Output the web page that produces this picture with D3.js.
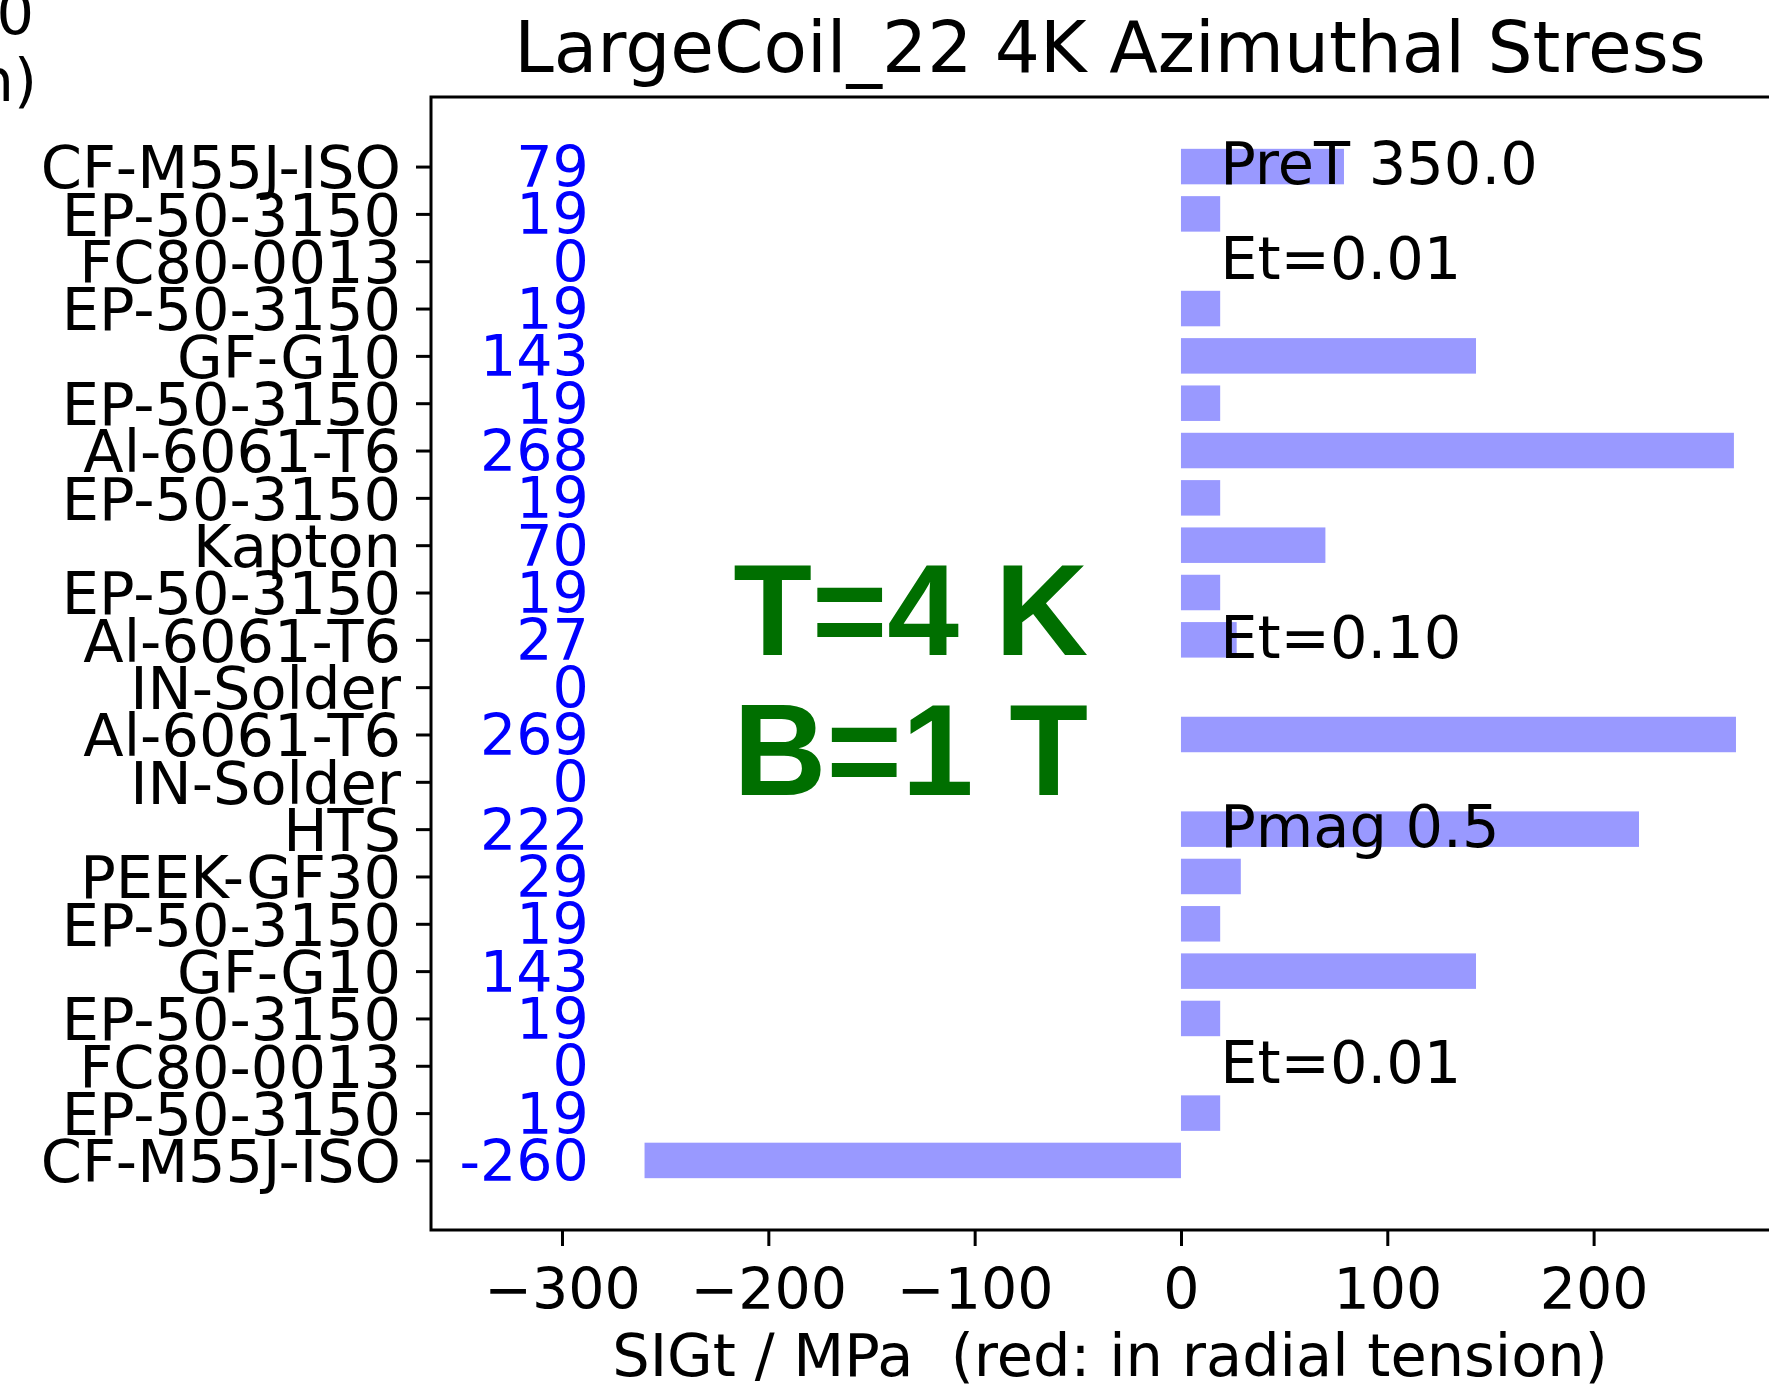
<!DOCTYPE html>
<html>
<head>
<meta charset="utf-8">
<script src="https://cdn.jsdelivr.net/npm/d3@7"></script>
<style>
  body { margin: 0; background: #fff; }
  svg text { font-family: "DejaVu Sans", sans-serif; }
</style>
</head>
<body>
<svg id="chart" width="1769" height="1392"></svg>
<script>
// layers, listed top to bottom
var materials = ["CF-M55J-ISO","EP-50-3150","FC80-0013","EP-50-3150","GF-G10","EP-50-3150",
    "Al-6061-T6","EP-50-3150","Kapton","EP-50-3150","Al-6061-T6","IN-Solder","Al-6061-T6",
    "IN-Solder","HTS","PEEK-GF30","EP-50-3150","GF-G10","EP-50-3150","FC80-0013","EP-50-3150","CF-M55J-ISO"];
var sigt = [79,19,0,19,143,19,268,19,70,19,27,0,269,0,222,29,19,143,19,0,19,-260];
var xTicks = [-300,-200,-100,0,100,200];
var noteRows = [0,2,10,14,19];
var noteTexts = ["PreT 350.0","Et=0.01","Et=0.10","Pmag 0.5","Et=0.01"];
var condLines = ["T=4 K","B=1 T"];

function draw() {
    var svg = d3.select("#chart"),
        mLeft = 431, mTop = 97, mBottom = 1230, mRight = 1789,
        fs = 57;

    var x = d3.scaleLinear().domain([-363.5, 294.7]).range([mLeft, mRight]);
    var y = d3.scaleLinear().domain([-1.47, 22.47]).range([mTop, mBottom]);
    var barH = y(0.375) - y(-0.375);

    svg.append("rect").attr("width", 1769).attr("height", 1392).attr("fill", "#fff");

    // bars
    svg.append("g").selectAll("rect")
        .data(sigt)
        .enter().append("rect")
        .attr("x", function(d) { return x(Math.min(0, d)); })
        .attr("y", function(d, i) { return y(i) - barH / 2; })
        .attr("width", function(d) { return Math.abs(x(d) - x(0)); })
        .attr("height", barH)
        .attr("fill", "#9999ff");

    // value labels
    svg.append("g").selectAll("text")
        .data(sigt)
        .enter().append("text")
        .attr("x", x(-287))
        .attr("y", function(d, i) { return y(i); })
        .attr("dy", "0.36em")
        .attr("text-anchor", "end")
        .attr("font-size", fs)
        .attr("fill", "#0000ff")
        .text(function(d) { return d; });

    // notes
    svg.append("g").selectAll("text")
        .data(noteRows)
        .enter().append("text")
        .attr("x", x(19))
        .attr("y", function(d) { return y(d); })
        .attr("dy", "0.30em")
        .attr("font-size", 59)
        .attr("fill", "#000")
        .text(function(d, i) { return noteTexts[i]; });

    // conditions
    svg.append("g").selectAll("text")
        .data(condLines)
        .enter().append("text")
        .attr("x", x(-131))
        .attr("y", function(d, i) { return y(10.33) + i * 140; })
        .attr("text-anchor", "middle")
        .style("font-family", "'Liberation Sans', Arial, sans-serif")
        .attr("font-weight", "bold")
        .attr("font-size", 129)
        .attr("fill", "#006f00")
        .text(function(d) { return d; });

    // axes
    var yAxis = d3.axisLeft(y)
        .tickValues(d3.range(materials.length))
        .tickFormat(function(i) { return materials[i]; })
        .tickSize(15).tickPadding(15);
    var gy = svg.append("g").attr("transform", "translate(" + mLeft + ",0)").call(yAxis);
    gy.select(".domain").remove();

    var xAxis = d3.axisBottom(x)
        .tickValues(xTicks)
        .tickFormat(function(d) { return d < 0 ? "\u2212" + Math.abs(d) : d; })
        .tickSize(16).tickPadding(23);
    var gx = svg.append("g").attr("transform", "translate(0," + mBottom + ")").call(xAxis);
    gx.select(".domain").remove();

    [gx, gy].forEach(function(g) {
        g.selectAll("line").attr("stroke", "#000").attr("stroke-width", 3);
        g.selectAll("text").attr("font-size", fs).attr("fill", "#000")
            .style("font-family", "'DejaVu Sans', sans-serif");
    });
    gy.selectAll("text").attr("dy", "0.36em").attr("font-size", 59);

    // frame
    svg.append("rect")
        .attr("x", mLeft).attr("y", mTop)
        .attr("width", mRight - mLeft).attr("height", mBottom - mTop)
        .attr("fill", "none").attr("stroke", "#000").attr("stroke-width", 3);

    // title and label
    svg.append("text")
        .attr("x", (mLeft + mRight) / 2).attr("y", 72)
        .attr("text-anchor", "middle")
        .attr("font-size", 71)
        .text("LargeCoil_22 4K Azimuthal Stress");

    svg.append("text")
        .attr("x", (mLeft + mRight) / 2).attr("y", 1376)
        .attr("text-anchor", "middle")
        .attr("font-size", 59)
        .style("white-space", "pre")
        .text("SIGt / MPa  (red: in radial tension)");

    // bits of the neighbouring panel, cut by the page edge
    svg.append("text").attr("x", 34).attr("y", 34).attr("text-anchor", "end")
        .attr("font-size", 59).text("0");
    svg.append("text").attr("x", 37).attr("y", 101).attr("text-anchor", "end")
        .attr("font-size", 59).text("n)");
}

draw();
</script>
</body>
</html>
